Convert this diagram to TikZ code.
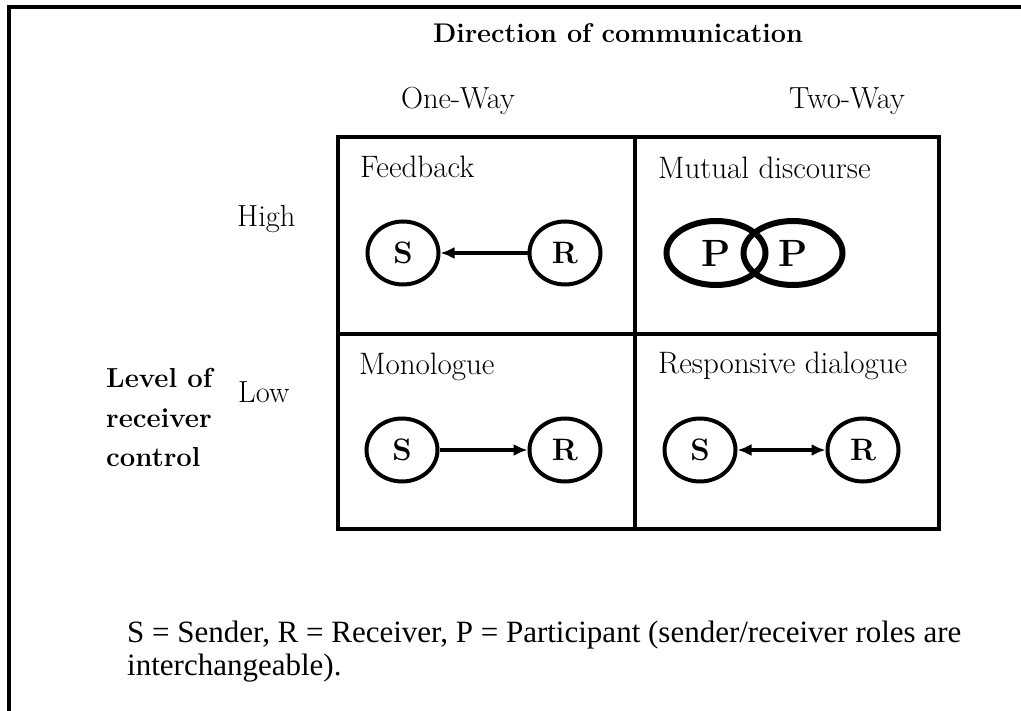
\documentclass[tikz,border=0pt]{standalone}
\usepackage{fontspec}
\newfontfamily\notefont{Liberation Serif}
\usetikzlibrary{shapes.geometric,arrows.meta}

\tikzset{
  px/.style={x=1pt,y=-1pt},
  heading/.style={font=\fontsize{27}{32}\selectfont\bfseries, inner sep=0pt},
  axislabel/.style={font=\fontsize{30.5}{36}\selectfont, inner sep=0pt},
  celltitle/.style={font=\fontsize{31}{36}\selectfont, inner sep=0pt, anchor=base west},
  sidebold/.style={font=\fontsize{27.5}{32}\selectfont\bfseries, inner sep=0pt, anchor=base west},
  role/.style={ellipse, draw, line width=4pt, minimum width=71pt, minimum height=63pt,
               inner sep=0pt, font=\fontsize{31}{36}\selectfont\bfseries},
  partner/.style={ellipse, draw, line width=6pt, minimum width=99pt, minimum height=64pt,
                  inner sep=0pt, font=\fontsize{38}{42}\selectfont\bfseries},
  flow/.style={line width=3.5pt, -{Latex[length=14pt,width=12pt]}},
  twoflow/.style={line width=3.5pt, {Latex[length=14pt,width=12pt]}-{Latex[length=14pt,width=12pt]}},
  gridline/.style={line width=4pt},
  note/.style={font=\notefont\fontsize{31}{36}\selectfont, inner sep=0pt, anchor=base west}
}

\begin{document}
\begin{tikzpicture}[px]
\useasboundingbox (0,0) rectangle (1021,711);
\fill[white] (0,0) rectangle (1021,711);

% outer frame (open at the bottom and the right)
\draw[line width=4pt] (9,711) -- (9,7) -- (1021,7);

% headings
\node[heading, anchor=base] (dir) at (618,43) {Direction of communication};
\node[axislabel, anchor=base] (one) at (458,109) {One-Way};
\node[axislabel, anchor=base] (two) at (847,109) {Two-Way};
\node[axislabel, anchor=base west] (high) at (237,227) {High};
\node[axislabel, anchor=base west] (low) at (238,403) {Low};
\node[sidebold] (lev1) at (106,388) {Level of};
\node[sidebold] (lev2) at (106,428) {receiver};
\node[sidebold] (lev3) at (106,467) {control};

% the 2x2 grid
\draw[gridline] (338,137) rectangle (939,529);
\draw[gridline] (635,137) -- (635,529);
\draw[gridline] (338,334) -- (939,334);

% cell titles
\node[celltitle] (t1) at (360,178) {Feedback};
\node[celltitle] (t2) at (658,179) {Mutual discourse};
\node[celltitle] (t3) at (359,375) {Monologue};
\node[celltitle] (t4) at (658,374) {Responsive dialogue};

% feedback: receiver back to sender
\node[role] (fs) at (403,253) {S};
\node[role] (fr) at (565,253) {R};
\draw[flow] (fr) -- (fs);

% mutual discourse: two overlapping participants
\node[partner] (p1) at (716,253) {P};
\node[partner] (p2) at (793,253) {P};

% monologue: sender to receiver
\node[role] (ms) at (402,450) {S};
\node[role] (mr) at (565,450) {R};
\draw[flow] (ms) -- (mr);

% responsive dialogue: both directions
\node[role] (ds) at (700,450) {S};
\node[role] (dr) at (863,450) {R};
\draw[twoflow] (ds) -- (dr);

% key
\node[note] (k1) at (127,642) {S = Sender, R = Receiver, P = Participant (sender/receiver roles are};
\node[note] (k2) at (127,675) {interchangeable).};
\end{tikzpicture}
\end{document}
